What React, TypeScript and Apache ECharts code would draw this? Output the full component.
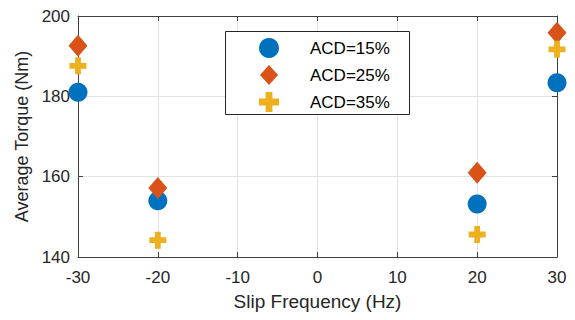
import React, { useEffect, useRef } from "react";
import * as echarts from "echarts";

const xTicks = [-30, -20, -10, 0, 10, 20, 30];
const slipFreq = [-30, -20, 20, 30];
const acd15 = [181.0, 154.0, 153.2, 183.4];
const acd25 = [192.6, 157.2, 161.0, 195.8];
const acd35 = [187.6, 144.2, 145.6, 191.7];
const seriesNames = ["ACD=15%", "ACD=25%", "ACD=35%"];

const PLUS = "path://M3.3,0H6.7V3.3H10V6.7H6.7V10H3.3V6.7H0V3.3H3.3Z";
const DIAMOND = "path://M5,0L10,5.5L5,11L0,5.5Z";
const FONT = "Liberation Sans";
const AXIS_COLOR = "#404040";
const TEXT_COLOR = "#262626";

export default function App() {
  const ref = useRef<HTMLDivElement>(null);
  useEffect(() => {
    if (!ref.current) return;
    const chart = echarts.init(ref.current, undefined, { renderer: "svg" });
    const pairs = (ys: number[]) => slipFreq.map((x, i) => [x, ys[i]]);
    const boxAxisX = {
      type: "value",
      min: -30,
      max: 30,
      interval: 10,
      axisLine: { show: true, onZero: false, lineStyle: { color: AXIS_COLOR, width: 1 } },
      axisTick: { show: true, inside: true, length: 5, lineStyle: { color: AXIS_COLOR } },
      axisLabel: { show: false },
      splitLine: { show: false },
    };
    const boxAxisY = {
      type: "value",
      min: 140,
      max: 200,
      interval: 20,
      axisLine: { show: true, onZero: false, lineStyle: { color: AXIS_COLOR, width: 1 } },
      axisTick: { show: true, inside: true, length: 5, lineStyle: { color: AXIS_COLOR } },
      axisLabel: { show: false },
      splitLine: { show: false },
    };
    chart.setOption({
      animation: false,
      backgroundColor: "#ffffff",
      textStyle: { fontFamily: FONT },
      grid: { left: 78, right: 18, top: 16, bottom: 63, containLabel: false },
      xAxis: [
        {
          type: "value",
          min: xTicks[0],
          max: xTicks[xTicks.length - 1],
          interval: 10,
          position: "bottom",
          name: "Slip Frequency (Hz)",
          nameLocation: "middle",
          nameGap: 35,
          nameTextStyle: { fontFamily: FONT, fontSize: 19, color: TEXT_COLOR },
          axisLine: { show: true, onZero: false, lineStyle: { color: AXIS_COLOR, width: 1 } },
          axisTick: { show: true, inside: true, length: 5, lineStyle: { color: AXIS_COLOR } },
          axisLabel: { fontFamily: FONT, fontSize: 17, color: TEXT_COLOR, margin: 12 },
          splitLine: { show: true, lineStyle: { color: "#e3e3e3", width: 1 } },
        },
        { ...boxAxisX, position: "top" },
      ],
      yAxis: [
        {
          type: "value",
          min: 140,
          max: 200,
          interval: 20,
          position: "left",
          name: "Average Torque (Nm)",
          nameLocation: "middle",
          nameGap: 46,
          nameTextStyle: { fontFamily: FONT, fontSize: 18, color: TEXT_COLOR },
          axisLine: { show: true, onZero: false, lineStyle: { color: AXIS_COLOR, width: 1 } },
          axisTick: { show: true, inside: true, length: 5, lineStyle: { color: AXIS_COLOR } },
          axisLabel: { fontFamily: FONT, fontSize: 17, color: TEXT_COLOR, margin: 8 },
          splitLine: { show: true, lineStyle: { color: "#e3e3e3", width: 1 } },
        },
        { ...boxAxisY, position: "right" },
      ],
      graphic: [
        {
          type: "rect",
          left: 225,
          top: 31,
          shape: { width: 184, height: 83 },
          style: { fill: "#ffffff", stroke: "#262626", lineWidth: 1 },
          z: 3,
        },
      ],
      legend: {
        orient: "vertical",
        left: 254,
        top: 33,
        itemWidth: 20,
        itemHeight: 20,
        itemGap: 7,
        z: 5,
        textStyle: { fontFamily: FONT, fontSize: 17, color: "#000000", padding: [0, 0, 0, 26] },
        data: [
          { name: seriesNames[0], icon: "circle", itemStyle: { opacity: 1 } },
          { name: seriesNames[1], icon: DIAMOND, itemStyle: { opacity: 1 } },
          { name: seriesNames[2], icon: PLUS, itemStyle: { opacity: 1 } },
        ],
      },
      series: [
        {
          name: seriesNames[0],
          type: "scatter",
          symbol: "circle",
          symbolSize: 19,
          itemStyle: { color: "#0072BD", opacity: 1 },
          data: pairs(acd15),
          z: 2,
        },
        {
          name: seriesNames[1],
          type: "scatter",
          symbol: DIAMOND,
          symbolSize: [19, 22],
          itemStyle: { color: "#D95319", opacity: 1 },
          data: pairs(acd25),
          z: 3,
        },
        {
          name: seriesNames[2],
          type: "scatter",
          symbol: PLUS,
          symbolSize: 17,
          itemStyle: { color: "#EDB120", opacity: 1 },
          data: pairs(acd35),
          z: 4,
        },
      ],
    });
    return () => chart.dispose();
  }, []);
  return (
    <div
      ref={ref}
      style={{ position: "fixed", left: 0, top: 0, width: 575, height: 320 }}
    />
  );
}
